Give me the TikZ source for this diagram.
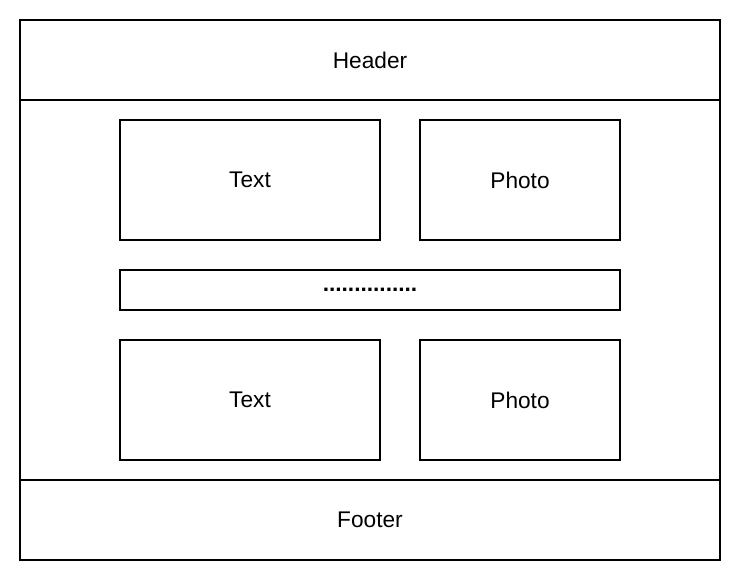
\documentclass[tikz,border=0pt]{standalone}
\usepackage{fontspec}
\setmainfont{Liberation Sans}
\begin{document}
\begin{tikzpicture}[x=0.75pt,y=-0.75pt]

\tikzset{frame/.style={rectangle,draw,line width=1pt,inner sep=0pt,outer sep=0pt,font=\fontsize{17}{20}\selectfont},}
\tikzset{band/.style={frame,minimum width=525pt,minimum height=60pt},}
\tikzset{textbox/.style={frame,minimum width=195pt,minimum height=90pt},}
\tikzset{photobox/.style={frame,minimum width=150pt,minimum height=90pt},}

\useasboundingbox (0,0) rectangle (740,580);

	\draw
		(370,290) node[frame,minimum width=525pt,minimum height=285pt] (body) {}
		(370,60) node[band] (header) {Header}
		(370,520) node[band] (footer) {Footer}
		(250,180) node[textbox] (text1) {Text}
		(520,180) node[photobox] (photo1) {Photo}
		(370,290) node[frame,minimum width=375pt,minimum height=30pt] (more) {\textbf{...............}}
		(250,400) node[textbox] (text2) {Text}
		(520,400) node[photobox] (photo2) {Photo};

\end{tikzpicture}
\end{document}
